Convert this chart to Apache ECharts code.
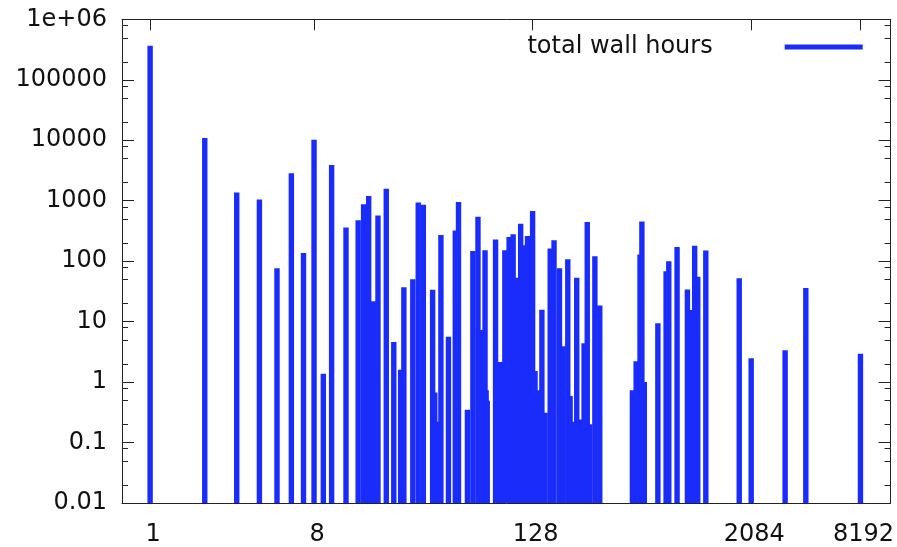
<!DOCTYPE html>
<html>
<head>
<meta charset="utf-8">
<script src="https://cdn.jsdelivr.net/npm/echarts@6/dist/echarts.min.js"></script>
<style>
  html, body { margin: 0; padding: 0; background: #ffffff; }
  #chart { width: 897px; height: 547px; }
</style>
</head>
<body>
<div id="chart"></div>
<script>
// Number of processors per job and the total wall hours spent at that size
const procCounts = [
  1, 2, 3, 4, 5, 6, 7, 8, 9, 10,
  12, 14, 15, 16, 17, 18, 20, 22, 24, 25,
  28, 30, 32, 36, 37, 39, 40, 44, 48, 50,
  56, 60, 64, 66, 70, 71, 72, 80, 85, 90,
  95, 100, 104, 110, 114, 120, 128, 132, 136, 144,
  150, 160, 168, 180, 188, 200, 206, 212, 224, 232,
  246, 256, 264, 282, 300, 454, 476, 500, 512, 528,
  627, 696, 720, 800, 912, 936, 1000, 1040, 1152, 1760,
  2048, 3150, 4096, 8192
];
const wallHours = [
  364000, 10900, 1360, 1045, 76, 2850, 136, 10150, 1.37, 3900,
  359, 475, 870, 1200, 21.7, 570, 1570, 4.6, 1.6, 37,
  50, 935, 855, 33.5, 0.67, 0.22, 270, 5.6, 322, 955,
  0.35, 147, 545, 7.3, 152, 0.73, 0.49, 229, 2.14, 152,
  251, 278, 53, 416, 184, 261, 673, 1.52, 0.73, 15.7,
  0.31, 162, 221, 76, 3.9, 107, 0.59, 0.22, 53, 0.24,
  4.4, 444, 0.2, 121, 18.5, 0.73, 2.2, 129, 454, 1.0,
  9.4, 68, 100, 172, 34, 15.5, 179, 55, 150, 52,
  2.48, 3.36, 36, 2.95
];

// Axis ticks and their labels
const xTickValues = [1, 8, 128, 2048, 8192];
const xTickLabels = ['1', '8', '128', '2084', '8192'];
const yTickValues = [0.01, 0.1, 1, 10, 100, 1000, 10000, 100000, 1000000];
const yTickLabels = ['0.01', '0.1', '1', '10', '100', '1000', '10000', '100000', '1e+06'];
const yMinorSteps = [2, 5, 8];

const seriesName = 'total wall hours';

const X_MIN = 0.7, X_MAX = 12000;
const Y_MIN = 0.01, Y_MAX = 1e6;
const BLUE = '#1a2cfa';
const INK = '#111111';
const FRAME = '#222222';
const FONT = 'DejaVu Sans';
const BAR_PX = 5.4;

const minorTickValues = [];
yTickValues.slice(0, -1).forEach(d => yMinorSteps.forEach(s => minorTickValues.push(d * s)));

function xLabel(v) {
  let best = 0, bestD = Infinity;
  xTickValues.forEach((t, i) => {
    const d = Math.abs(Math.log2(v) - Math.log2(t));
    if (d < bestD) { bestD = d; best = i; }
  });
  return bestD < 0.01 ? xTickLabels[best] : '';
}
function yLabel(v) {
  const idx = yTickValues.findIndex(t => Math.abs(Math.log10(v) - Math.log10(t)) < 0.01);
  return idx >= 0 ? yTickLabels[idx] : '';
}

function xAxisDef(position, showLabels) {
  return {
    type: 'log', logBase: 2, min: X_MIN, max: X_MAX, position: position,
    axisLine: { show: true, onZero: false, lineStyle: { color: FRAME, width: 1 } },
    axisTick: { show: true, inside: true, length: 11, customValues: xTickValues,
      lineStyle: { color: FRAME, width: 1 } },
    axisLabel: { show: showLabels, customValues: xTickValues, formatter: xLabel,
      margin: 20, padding: [0, 0, 0, 6], fontSize: 24, fontFamily: FONT, color: INK },
    splitLine: { show: false }, minorTick: { show: false }
  };
}
function yAxisDef(position, showLabels) {
  return {
    type: 'log', logBase: 10, min: Y_MIN, max: Y_MAX, interval: 1, position: position,
    axisLine: { show: true, onZero: false, lineStyle: { color: FRAME, width: 1 } },
    axisTick: { show: true, inside: true, length: 12, lineStyle: { color: FRAME, width: 1 } },
    axisLabel: { show: showLabels, formatter: yLabel, margin: 15, padding: [9, 0, 0, 0],
      fontSize: 24, fontFamily: FONT, color: INK },
    splitLine: { show: false }, minorTick: { show: false }
  };
}

const chart = echarts.init(document.getElementById('chart'), null, { renderer: 'canvas' });
chart.setOption({
  backgroundColor: '#ffffff',
  animation: false,
  grid: { left: 122, right: 6.3, top: 19.3, bottom: 41, containLabel: false },
  legend: {
    data: [{ name: seriesName, icon: 'rect' }],
    right: 34.3, top: 35, padding: 0,
    align: 'right', itemWidth: 78, itemHeight: 5,
    selectedMode: false,
    textStyle: { fontSize: 24, fontFamily: FONT, color: INK, lineHeight: 24, padding: [0, 67, 0, 0] }
  },
  xAxis: [xAxisDef('bottom', true), xAxisDef('top', false)],
  yAxis: [yAxisDef('left', true), yAxisDef('right', false)],
  series: [
    {
      name: seriesName,
      type: 'custom',
      coordinateSystem: 'cartesian2d',
      xAxisIndex: 0, yAxisIndex: 0,
      itemStyle: { color: BLUE },
      encode: { x: 0, y: 1 },
      clip: true,
      data: procCounts.map((p, i) => [p, wallHours[i]]),
      renderItem: function (params, api) {
        const x = api.value(0);
        const top = api.coord([x, api.value(1)]);
        const base = api.coord([x, Y_MIN]);
        return {
          type: 'rect',
          shape: { x: top[0] - BAR_PX / 2, y: top[1], width: BAR_PX, height: base[1] - top[1] },
          style: { fill: BLUE }
        };
      }
    },
    {
      // minor ticks of the logarithmic y axis, on both sides of the frame
      name: 'yMinorTicks',
      type: 'custom',
      coordinateSystem: 'cartesian2d',
      xAxisIndex: 0, yAxisIndex: 0,
      silent: true,
      z: 5,
      data: minorTickValues.map(v => [X_MIN, v]),
      renderItem: function (params, api) {
        const v = api.value(1);
        const l = api.coord([X_MIN, v]);
        const r = api.coord([X_MAX, v]);
        const y = Math.round(l[1]) + 0.5;
        return {
          type: 'group',
          children: [
            { type: 'line', shape: { x1: l[0], y1: y, x2: l[0] + 6, y2: y },
              style: { stroke: FRAME, lineWidth: 1 } },
            { type: 'line', shape: { x1: r[0], y1: y, x2: r[0] - 6, y2: y },
              style: { stroke: FRAME, lineWidth: 1 } }
          ]
        };
      }
    }
  ]
});
</script>
</body>
</html>
